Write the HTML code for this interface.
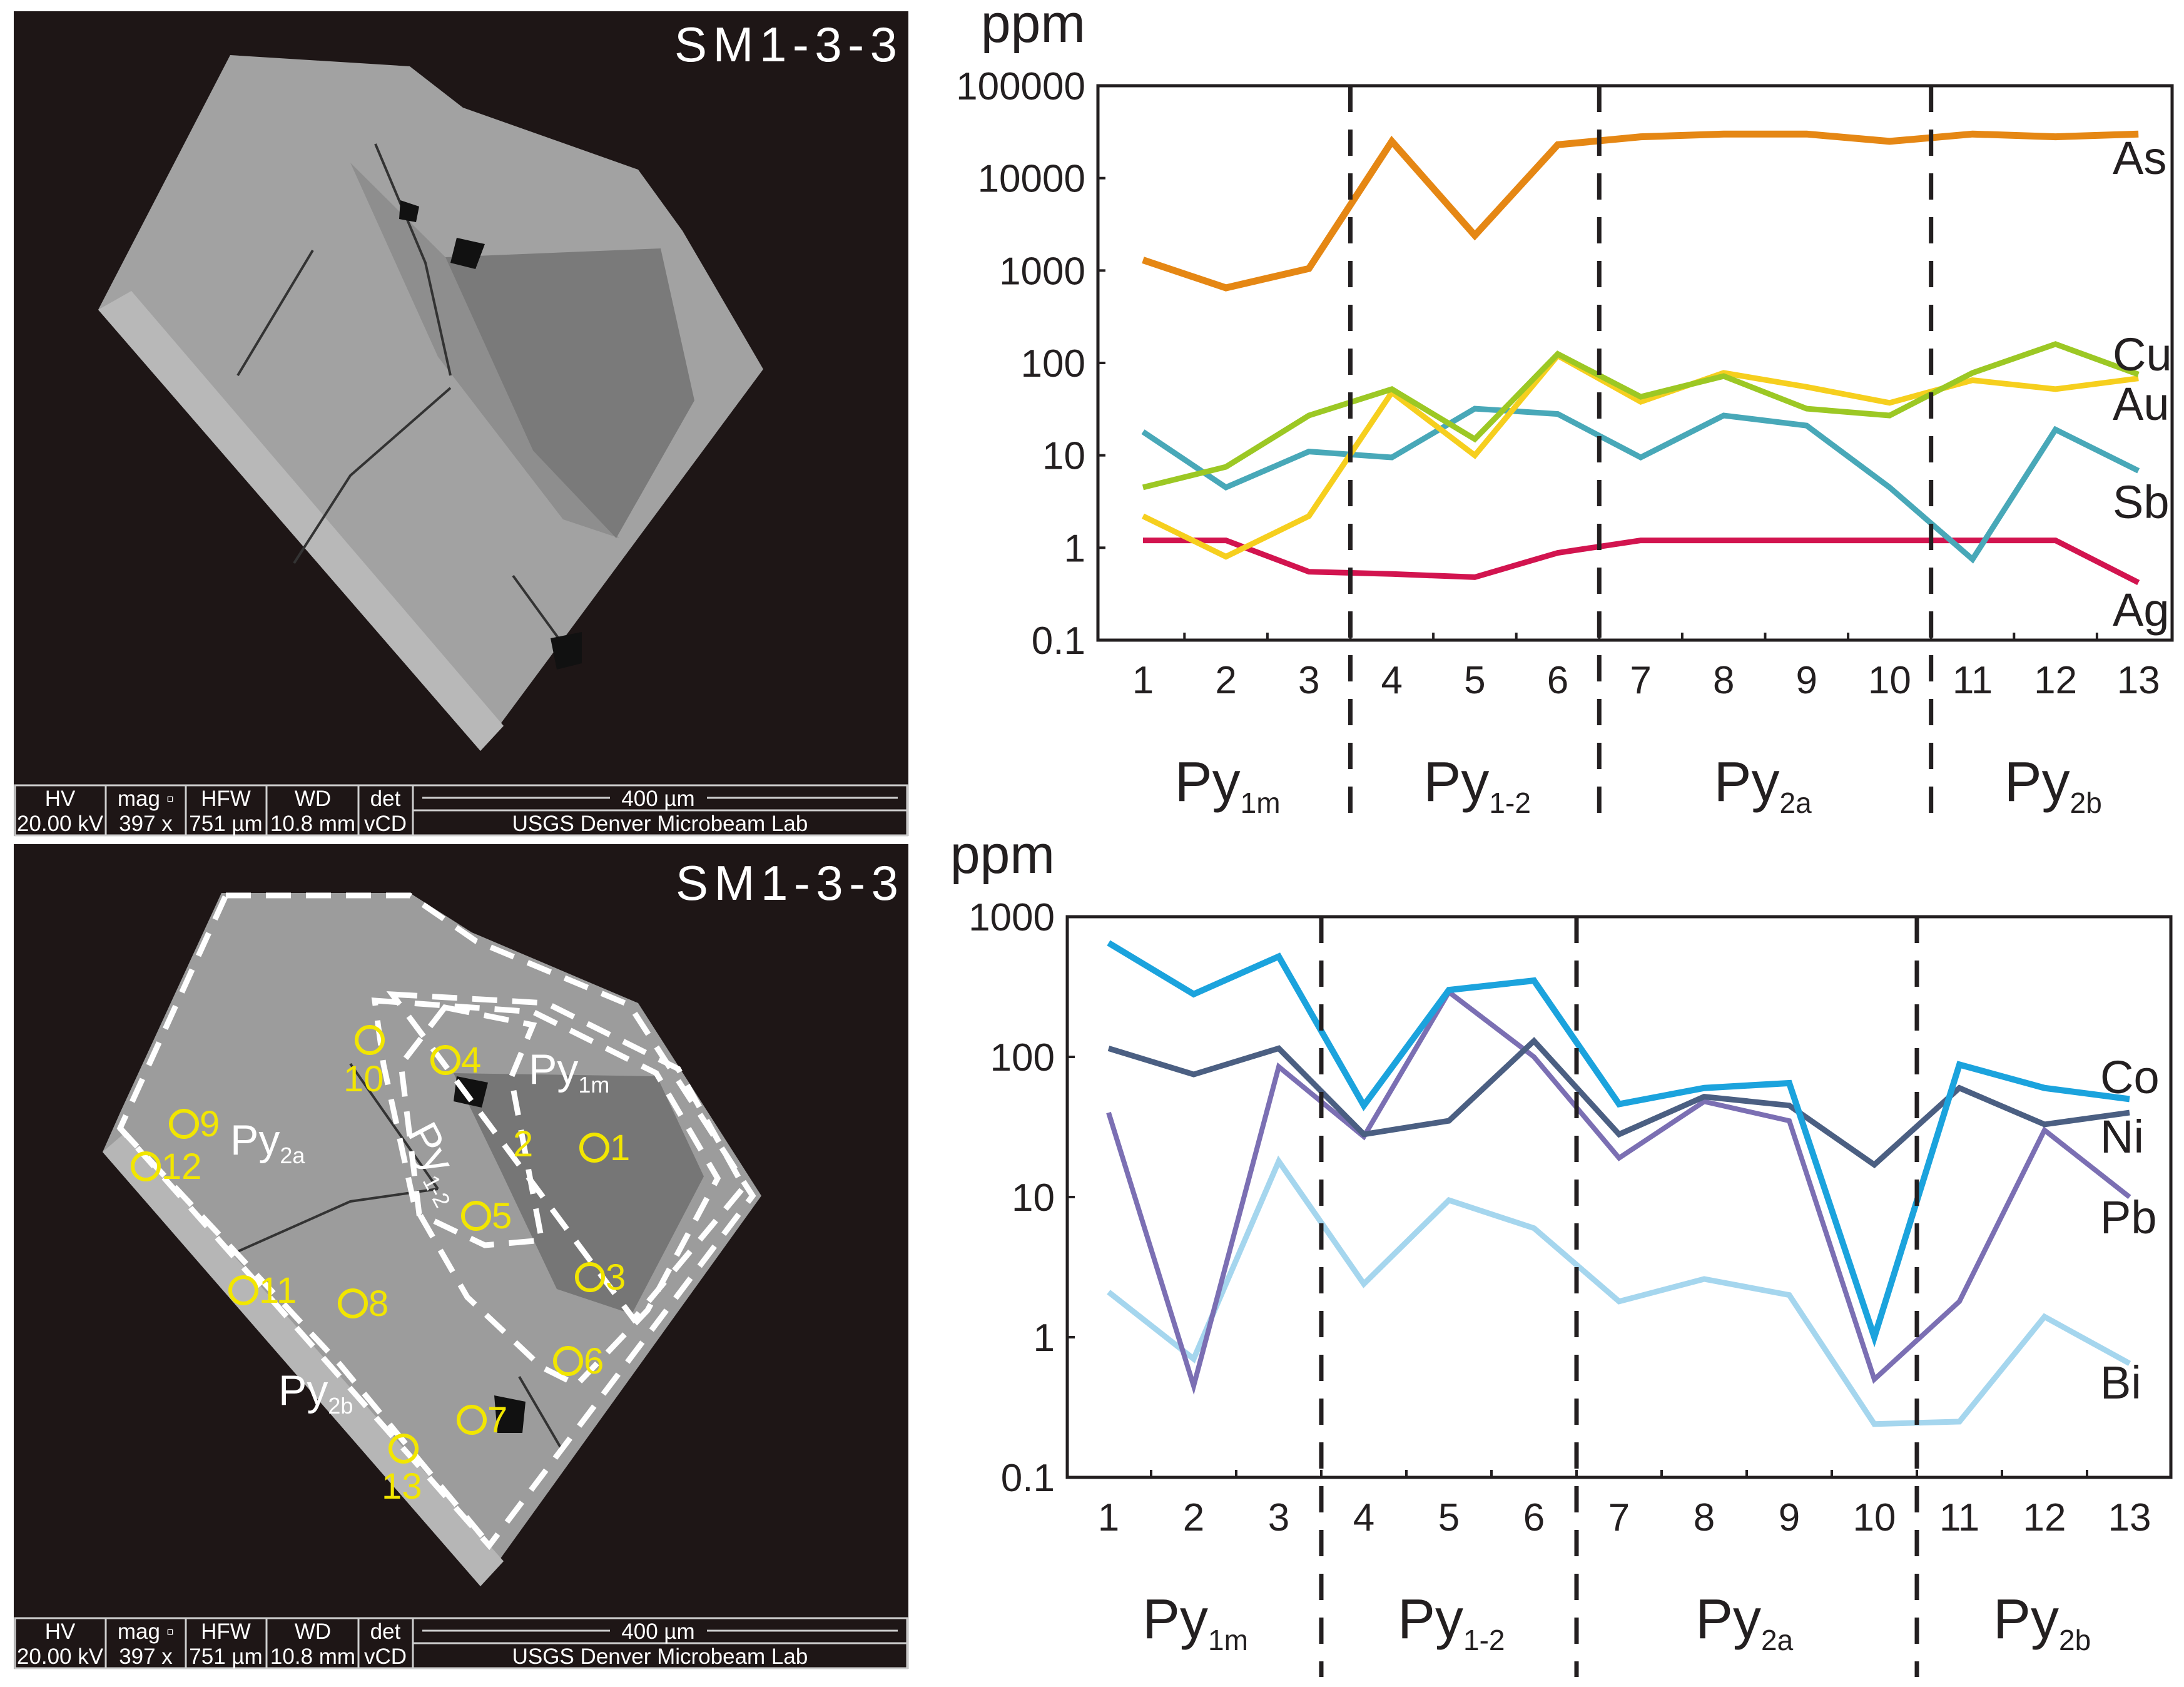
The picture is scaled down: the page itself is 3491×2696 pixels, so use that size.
<!DOCTYPE html>
<html><head><meta charset="utf-8"><style>
html,body{margin:0;padding:0;background:#fff;}
svg{display:block;}
text{font-family:"Liberation Sans",Arial,sans-serif;}
</style></head><body>
<svg id="fig" xmlns="http://www.w3.org/2000/svg" width="3491" height="2696" viewBox="0 0 3491 2696">
<rect width="3491" height="2696" fill="#fff"/>
<g>
  <rect x="22" y="18" width="1430" height="1318" fill="#1e1616"/>
  <g>
    <polygon points="368,88 655,106 740,172 1020,271 1091,369 1220,590 768,1200 157,495" fill="#a2a2a2"/>
    <polygon points="157,495 768,1200 805,1160 210,465" fill="#b8b8b8"/>
    <polygon points="560,260 712,411 852,720 990,860 900,830 700,570" fill="#8e8e8e"/>
    <polygon points="712,411 1056,397 1110,640 985,860 852,720" fill="#7a7a7a"/>
    <path d="M600,230 L680,420 L720,600 M500,400 L380,600 M720,620 L560,760 L470,900 M820,920 L900,1030" stroke="#333" stroke-width="4" fill="none"/>
    <polygon points="730,380 775,390 760,430 720,420" fill="#111"/>
    <polygon points="880,1020 930,1010 930,1060 890,1070" fill="#111"/>
    <polygon points="640,320 670,330 665,355 638,350" fill="#111"/>
  </g>
  <text x="1078" y="98" font-size="78" fill="#fff" textLength="356">SM1-3-3</text>
  <g stroke="#cfcfcf" stroke-width="3" fill="none">
    <rect x="24" y="1255" width="1426" height="80"/>
    <line x1="169" y1="1255" x2="169" y2="1335"/><line x1="297" y1="1255" x2="297" y2="1335"/><line x1="426" y1="1255" x2="426" y2="1335"/><line x1="573" y1="1255" x2="573" y2="1335"/><line x1="660" y1="1255" x2="660" y2="1335"/>
    <line x1="660" y1="1295" x2="1450" y2="1295"/>
    <line x1="675" y1="1275" x2="975" y2="1275"/><line x1="1130" y1="1275" x2="1435" y2="1275"/>
  </g>
  <g fill="#fff" font-size="35" text-anchor="middle">
    <text x="96" y="1288">HV</text><text x="233" y="1288">mag ▫</text><text x="361" y="1288">HFW</text><text x="500" y="1288">WD</text><text x="616" y="1288">det</text><text x="1052" y="1288">400 µm</text>
    <text x="96" y="1328">20.00 kV</text><text x="233" y="1328">397 x</text><text x="361" y="1328">751 µm</text><text x="500" y="1328">10.8 mm</text><text x="616" y="1328">vCD</text><text x="1055" y="1328">USGS Denver Microbeam Lab</text>
  </g>
</g>
<g>
  <rect x="22" y="1349" width="1430" height="1318" fill="#1e1616"/>
  <g>
    <polygon points="354,1427 655,1427 754,1490 1020,1603 1217,1911 768,2535 164,1841 192,1778" fill="#9c9c9c"/>
    <polygon points="164,1841 768,2535 805,2495 200,1810" fill="#b6b6b6"/>
    <polygon points="725,1715 1050,1720 1125,1880 1010,2100 890,2060 800,1870" fill="#767676"/>
    <path d="M560,1700 L700,1900 M380,2000 L560,1920 L700,1900 M830,2200 L900,2320" stroke="#333" stroke-width="4" fill="none"/>
    <polygon points="730,1720 780,1730 770,1770 725,1760" fill="#111"/>
    <polygon points="790,2230 840,2240 835,2290 795,2290" fill="#111"/>
  </g>
  <g fill="none" stroke="#fff" stroke-width="9" stroke-dasharray="40,24">
    <polygon points="361,1431 655,1431 761,1504 1006,1606 1203,1911 782,2470 192,1803"/>
    <polyline points="192,1803 543,2180 775,2460"/>
    <polygon points="599,1599 852,1617 1049,1715 1147,1883 1035,2094 922,2213 866,2185 747,2073 662,1925 613,1701"/>
    <polygon points="627,1589 873,1603 1084,1708 1189,1897 1013,2108"/>
    <polygon points="711,1610 852,1638 817,1722 866,1982 775,1990 670,1940 641,1701"/>
  </g>
  <text x="1080" y="1438" font-size="78" fill="#fff" textLength="356">SM1-3-3</text>
  <g fill="#fff" font-size="68">
    <text x="845" y="1732">Py<tspan font-size="36" dy="14">1m</tspan></text>
    <text x="368" y="1845">Py<tspan font-size="36" dy="14">2a</tspan></text>
    <text x="445" y="2245">Py<tspan font-size="36" dy="14">2b</tspan></text>
    <text x="650" y="1810" transform="rotate(62 650 1810)">Py<tspan font-size="36" dy="14">1-2</tspan></text>
  </g>
  <g id="spots" stroke="#f2e600" stroke-width="6" fill="none"></g>
  <g id="spotlabels" fill="#f2e600" font-size="58"></g>
  <g stroke="#cfcfcf" stroke-width="3" fill="none">
    <rect x="24" y="2586" width="1426" height="80"/>
    <line x1="169" y1="2586" x2="169" y2="2666"/><line x1="297" y1="2586" x2="297" y2="2666"/><line x1="426" y1="2586" x2="426" y2="2666"/><line x1="573" y1="2586" x2="573" y2="2666"/><line x1="660" y1="2586" x2="660" y2="2666"/>
    <line x1="660" y1="2626" x2="1450" y2="2626"/>
    <line x1="675" y1="2606" x2="975" y2="2606"/><line x1="1130" y1="2606" x2="1435" y2="2606"/>
  </g>
  <g fill="#fff" font-size="35" text-anchor="middle">
    <text x="96" y="2619">HV</text><text x="233" y="2619">mag ▫</text><text x="361" y="2619">HFW</text><text x="500" y="2619">WD</text><text x="616" y="2619">det</text><text x="1052" y="2619">400 µm</text>
    <text x="96" y="2659">20.00 kV</text><text x="233" y="2659">397 x</text><text x="361" y="2659">751 µm</text><text x="500" y="2659">10.8 mm</text><text x="616" y="2659">vCD</text><text x="1055" y="2659">USGS Denver Microbeam Lab</text>
  </g>
</g>
<g id="chartTop"></g>
<g id="chartBot"></g>
</svg>
<script>
const NS='http://www.w3.org/2000/svg';
const categories=[1,2,3,4,5,6,7,8,9,10,11,12,13];
const groupLabels=[['Py','1m'],['Py','1-2'],['Py','2a'],['Py','2b']];
const groupBounds=[3.5,6.5,10.5];
const groupCenters=[2,5,8.5,12];
const asVals=[1300,650,1050,25000,2400,23000,28000,30000,30000,25000,30000,28000,30000];
const cuVals=[4.5,7.5,27,52,15,125,43,72,32,27,78,160,75];
const auVals=[2.2,0.8,2.2,48,10,120,38,78,55,37,65,52,68];
const sbVals=[18,4.5,11,9.5,32,28,9.5,27,21,4.5,0.75,19,6.8];
const agVals=[1.2,1.2,0.55,0.52,0.48,0.88,1.2,1.2,1.2,1.2,1.2,1.2,0.42];
const topTicks=['0.1','1','10','100','1000','10000','100000'];
const coVals=[650,280,520,45,300,350,46,60,65,1.0,88,60,50];
const niVals=[115,75,115,28,35,130,28,52,45,17,60,33,40];
const pbVals=[40,0.45,85,27,290,100,19,48,35,0.5,1.8,30,10];
const biVals=[2.1,0.7,18,2.4,9.5,6,1.8,2.6,2.0,0.24,0.25,1.4,0.65];
const botTicks=['0.1','1','10','100','1000'];

function el(tag,attrs,parent){const e=document.createElementNS(NS,tag);for(const k in attrs)e.setAttribute(k,attrs[k]);parent.appendChild(e);return e;}

function drawChart(g,cfg){
  const {left,right,top,bottom,x1,step,minExp,ticks,series,dashBottom}=cfg;
  const decade=(bottom-top)/(ticks.length-1);
  const X=i=>x1+(i-1)*step;
  const Y=v=>bottom-(Math.log10(v)-minExp)*decade;
  let t=el('text',{x:left-20,y:top-70,'font-size':86,'text-anchor':'end',fill:'#231f20'},g);
  t.textContent='ppm';
  
  
  ticks.forEach((lab,k)=>{
    const y=bottom-k*decade;
    const tt=el('text',{x:left-20,y:y+22,'font-size':62,'text-anchor':'end',fill:'#231f20'},g);
    tt.textContent=lab;
    
    
    if(k>0&&k<ticks.length-1){el('line',{x1:left,x2:left+12,y1:y,y2:y,stroke:'#231f20','stroke-width':4},g);}
  });
  categories.forEach(c=>{
    const tt=el('text',{x:X(c),y:bottom+85,'font-size':62,'text-anchor':'middle',fill:'#231f20'},g);
    tt.textContent=String(c);
    
    
    if(c<13) el('line',{x1:X(c+0.5),x2:X(c+0.5),y1:bottom,y2:bottom-12,stroke:'#231f20','stroke-width':4},g);
  });
  series.forEach(s=>{
    const pts=s.vals.map((v,i)=>X(categories[i])+','+Y(v).toFixed(1)).join(' ');
    const p=el('polyline',{points:pts,fill:'none',stroke:s.color,'stroke-width':s.w,'stroke-linejoin':'miter'},g);
    
    
    const lt=el('text',{x:s.lx,y:s.ly,'font-size':74,fill:'#231f20'},g);
    lt.textContent=s.name;
    
    
  });
  const box=el('rect',{x:left,y:top,width:right-left,height:bottom-top,fill:'none',stroke:'#231f20','stroke-width':5},g);
  
  
  groupBounds.forEach(b=>{
    const d=el('line',{x1:X(b),x2:X(b),y1:top,y2:dashBottom,stroke:'#231f20','stroke-width':7,'stroke-dasharray':'42,28'},g);
    
    
  });
  groupLabels.forEach((gl,k)=>{
    const tt=el('text',{x:X(groupCenters[k])-82,y:bottom+257,'font-size':90,fill:'#231f20'},g);
    tt.textContent=gl[0];
    const ts=el('tspan',{'font-size':46,dy:19},tt);
    ts.textContent=gl[1];
    
    
  });
}
drawChart(document.getElementById('chartTop'),{left:1755,right:3472,top:137,bottom:1023,x1:1827,step:132.6,minExp:-1,ticks:topTicks,dashBottom:1310,
 series:[
  {name:'Ag',vals:agVals,color:'#d2144f',w:9,lx:3377,ly:1000},
  {name:'Sb',vals:sbVals,color:'#48a8b8',w:9,lx:3377,ly:828},
  {name:'Au',vals:auVals,color:'#f6cf1e',w:9,lx:3377,ly:671},
  {name:'Cu',vals:cuVals,color:'#9cc824',w:9,lx:3377,ly:592},
  {name:'As',vals:asVals,color:'#e58714',w:11,lx:3377,ly:278}]});
drawChart(document.getElementById('chartBot'),{left:1706,right:3470,top:1465,bottom:2361,x1:1772,step:136,minExp:-1,ticks:botTicks,dashBottom:2680,
 series:[
  {name:'Bi',vals:biVals,color:'#a5d6ee',w:9,lx:3357,ly:2235},
  {name:'Pb',vals:pbVals,color:'#7b6fb3',w:8,lx:3357,ly:1971},
  {name:'Ni',vals:niVals,color:'#4b5f82',w:9,lx:3357,ly:1842},
  {name:'Co',vals:coVals,color:'#1ba3dd',w:10,lx:3357,ly:1747}]});

const spotG=document.getElementById('spots'),labG=document.getElementById('spotlabels');
const spotPos=[[950,1834,'1',25,20],[943,2041,'3',25,20],[712,1694,'4',25,20],[761,1943,'5',25,20],[908,2175,'6',25,20],[754,2269,'7',25,20],[564,2083,'8',25,20],[294,1796,'9',25,20],[591,1662,'10',-42,82],[389,2062,'11',25,20],[233,1864,'12',25,20],[645,2315,'13',-35,80]];
spotPos.forEach(s=>{
  const c=el('circle',{cx:s[0],cy:s[1],r:21},spotG);
  
  
  const t=el('text',{x:s[0]+s[3],y:s[1]+s[4]},labG);
  t.textContent=s[2];
  
  
});
const t2=el('text',{x:820,y:1848},labG);
t2.textContent='2';


</script>
</body></html>
